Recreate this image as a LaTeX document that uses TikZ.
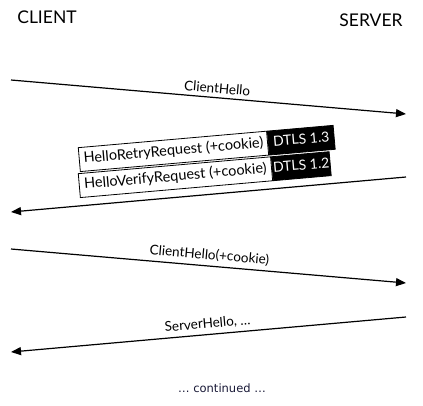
\documentclass[tikz,border=0pt]{standalone}
\usepackage{fontspec}
\setmainfont{Lato}
\newfontfamily\notefont{DejaVu Sans}
\usetikzlibrary{positioning,arrows.meta}
\definecolor{notecol}{RGB}{25,25,55}
\tikzset{
  party/.style={font=\fontsize{17.5}{20}\selectfont, inner sep=0pt},
  msg/.style={-{Triangle[length=10pt,width=8pt]}, line width=1.2pt},
  msglabel/.style={sloped, above=4pt, font=\fontsize{13.5}{15}\selectfont, inner sep=0pt},
  reqbox/.style={draw, line width=0.8pt, fill=white, rotate=5, minimum height=24pt, inner sep=0pt, font=\fontsize{14.5}{16}\selectfont, text height=10.5pt, text depth=3pt},
  verbox/.style={reqbox, fill=black, text=white, font=\fontsize{14}{16}\selectfont},
  note/.style={font=\notefont\fontsize{11.5}{13}\selectfont, text=notecol, inner sep=0pt}
}
\begin{document}
\begin{tikzpicture}[x=1pt, y=-1pt]
  \useasboundingbox (0,0) rectangle (423,405);
  \node[party] (client) at (47,17) {CLIENT};
  \node[party] (server) at (371,20) {SERVER};

  \coordinate (c1) at (11,80);  \coordinate (s1) at (406,114);
  \coordinate (s2) at (406,177); \coordinate (c2) at (11,212);
  \coordinate (c3) at (11,249); \coordinate (s3) at (406,283);
  \coordinate (s4) at (406,317); \coordinate (c4) at (11,352);

  \draw[msg] (c1) -- node[msglabel, pos=0.52] {ClientHello} (s1);
  \draw[msg] (s2) -- (c2);
  \draw[msg] (c3) -- node[msglabel, pos=0.5] {ClientHello(+cookie)} (s3);
  \draw[msg] (s4) -- node[msglabel, pos=0.5] {ServerHello, …} (c4);

  \node[reqbox, minimum width=189pt, anchor=south west] (hrr) at (80,172) {HelloRetryRequest (+cookie)};
  \node[verbox, minimum width=66pt, right=0pt of hrr] (v13) {DTLS 1.3};
  \node[reqbox, minimum width=193pt, anchor=south west] (hvr) at (80,198) {HelloVerifyRequest (+cookie)};
  \node[verbox, minimum width=58pt, right=0pt of hvr] (v12) {DTLS 1.2};

  \node[note] (cont) at (222,388) {… continued …};
\end{tikzpicture}
\end{document}
